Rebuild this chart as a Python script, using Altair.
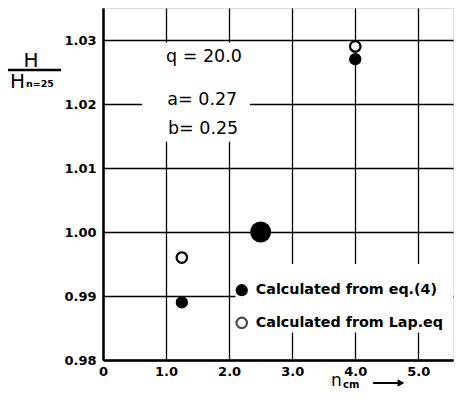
import altair as alt
import pandas as pd

# ---- data ----
eq4_x = [1.25, 4.0]
eq4_y = [0.989, 1.027]
lap_x = [1.25, 4.0]
lap_y = [0.996, 1.029]
ref_x = [2.5]
ref_y = [1.000]

x_ticks = [0, 1, 2, 3, 4, 5]
y_ticks = [0.98, 0.99, 1.00, 1.01, 1.02, 1.03]

params_text = ["q = 20.0", "a= 0.27", "b= 0.25"]
params_x = [1.0, 1.02, 1.03]
params_y = [1.0273, 1.0206, 1.0161]

legend_labels = ["Calculated from eq.(4)", "Calculated from Lap.eq"]
legend_x = [2.2, 2.2]
legend_y = [0.9909, 0.9858]
legend_filled = [True, False]

# regions where the printed grid is interrupted by lettering
mask_x1 = [0.62, 2.1]
mask_x2 = [2.33, 5.55]
mask_y1 = [1.0141, 0.9843]
mask_y2 = [1.0296, 0.9950]

X_DOM = [0, 5.55]
Y_DOM = [0.98, 1.035]
FONT = "DejaVu Sans"

xs = alt.Scale(domain=X_DOM, nice=False, zero=False)
ys = alt.Scale(domain=Y_DOM, nice=False, zero=False)

xaxis = alt.Axis(values=x_ticks, labelExpr="datum.value == 0 ? '0' : format(datum.value, '.1f')",
                 grid=True, gridColor="black", gridWidth=1.3, ticks=False,
                 domainColor="black", domainWidth=2.5, labelFont=FONT, labelFontWeight="bold",
                 labelFontSize=13, labelColor="black", labelPadding=5, title=None,
                 labelFlush=False)
yaxis = alt.Axis(values=y_ticks, format=".2f", grid=True, gridColor="black", gridWidth=1.3,
                 ticks=False, domainColor="black", domainWidth=2.5, labelFont=FONT,
                 labelFontWeight="bold", labelFontSize=13, labelColor="black",
                 labelPadding=7, title=None)

mask_df = pd.DataFrame({"x1": mask_x1, "x2": mask_x2, "y1": mask_y1, "y2": mask_y2})
masks = alt.Chart(mask_df).mark_rect(color="white").encode(
    x=alt.X("x1:Q", scale=xs, axis=xaxis),
    x2="x2:Q",
    y=alt.Y("y1:Q", scale=ys, axis=yaxis),
    y2="y2:Q",
)

eq4 = alt.Chart(pd.DataFrame({"x": eq4_x, "y": eq4_y})).mark_point(
    shape="circle", filled=True, color="black", size=150, opacity=1
).encode(x=alt.X("x:Q", scale=xs), y=alt.Y("y:Q", scale=ys))

lap = alt.Chart(pd.DataFrame({"x": lap_x, "y": lap_y})).mark_point(
    shape="circle", filled=False, color="black", size=110, strokeWidth=2.2, fill="white", fillOpacity=1
).encode(x=alt.X("x:Q", scale=xs), y=alt.Y("y:Q", scale=ys))

ref = alt.Chart(pd.DataFrame({"x": ref_x, "y": ref_y})).mark_point(
    shape="circle", filled=True, color="black", size=440, opacity=1
).encode(x=alt.X("x:Q", scale=xs), y=alt.Y("y:Q", scale=ys))

params = alt.Chart(pd.DataFrame({"t": params_text, "x": params_x, "y": params_y})).mark_text(
    align="left", baseline="middle", font=FONT, fontSize=17.5, fontWeight=500, color="black"
).encode(x=alt.X("x:Q", scale=xs), y=alt.Y("y:Q", scale=ys), text="t:N")

leg_df = pd.DataFrame({"t": legend_labels, "x": legend_x, "y": legend_y, "f": legend_filled})
leg_filled = alt.Chart(leg_df).transform_filter("datum.f").mark_point(
    shape="circle", filled=True, color="black", size=150, opacity=1
).encode(x=alt.X("x:Q", scale=xs), y=alt.Y("y:Q", scale=ys))
leg_open = alt.Chart(leg_df).transform_filter("!datum.f").mark_point(
    shape="circle", filled=False, color="black", size=110, strokeWidth=2.2
).encode(x=alt.X("x:Q", scale=xs), y=alt.Y("y:Q", scale=ys))
leg_text = alt.Chart(leg_df).mark_text(
    align="left", baseline="middle", font=FONT, fontSize=14.3, fontWeight="bold", color="black", dx=14
).encode(x=alt.X("x:Q", scale=xs), y=alt.Y("y:Q", scale=ys), text="t:N")

# y-axis title drawn as a fraction H / H_{n=25}
one = pd.DataFrame({"k": [0]})
ytitle_top = alt.Chart(one).mark_text(font=FONT, fontSize=20, color="black", align="center",
                                      baseline="alphabetic", text="H").encode(
    x=alt.value(-72), y=alt.value(59))
ytitle_bar = alt.Chart(one).mark_rule(color="black", strokeWidth=2.5).encode(
    x=alt.value(-96), x2=alt.value(-42), y=alt.value(62))
ytitle_bot = alt.Chart(one).mark_text(font=FONT, fontSize=20, color="black", align="left",
                                      baseline="alphabetic", text="H").encode(
    x=alt.value(-93), y=alt.value(80))
ytitle_sub = alt.Chart(one).mark_text(font=FONT, fontSize=9.5, fontWeight="bold", color="black",
                                      align="left", baseline="alphabetic", text="n=25").encode(
    x=alt.value(-77), y=alt.value(79))

# x-axis title  n_cm -->
xtitle_n = alt.Chart(one).mark_text(font=FONT, fontSize=17, color="black", align="left",
                                    baseline="alphabetic", text="n").encode(
    x=alt.value(228), y=alt.value(378))
xtitle_sub = alt.Chart(one).mark_text(font=FONT, fontSize=10, fontWeight="bold", color="black",
                                      align="left", baseline="alphabetic", text="cm").encode(
    x=alt.value(240), y=alt.value(380))
xtitle_arrow = alt.Chart(one).mark_rule(color="black", strokeWidth=2).encode(
    x=alt.value(270), x2=alt.value(297), y=alt.value(375))
xtitle_head = alt.Chart(one).mark_point(shape="triangle-right", filled=True, color="black",
                                        size=60, opacity=1).encode(
    x=alt.value(298), y=alt.value(375))

chart = alt.layer(
    masks, eq4, lap, ref, params, leg_filled, leg_open, leg_text,
    ytitle_top, ytitle_bar, ytitle_bot, ytitle_sub,
    xtitle_n, xtitle_sub, xtitle_arrow, xtitle_head,
).properties(
    width=350, height=352,
    autosize=alt.AutoSizeParams(type="none"),
    padding={"left": 95, "top": 0, "right": 5, "bottom": 32},
).configure_view(stroke=None).configure(background="white")

chart.save("out.html", embed_options={"renderer": "svg", "actions": False})
